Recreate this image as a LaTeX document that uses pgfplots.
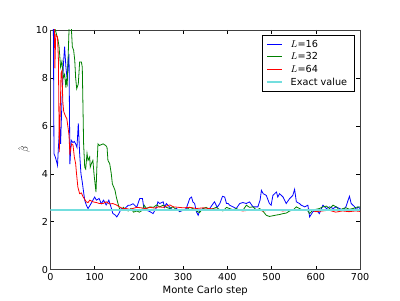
\documentclass[border=0pt]{standalone}
\usepackage{pgfplots}
\pgfplotsset{compat=1.18}
\usepackage{fontspec}
\setmainfont{DejaVu Sans}
\definecolor{mplgreen}{rgb}{0,0.5,0}
\definecolor{mplcyan}{rgb}{0.45,0.87,0.87}
\begin{document}
\fontsize{9.7pt}{11.5pt}\selectfont
\begin{tikzpicture}
\begin{axis}[
  width=310pt, height=240pt, scale only axis,
  xmin=0, xmax=700, ymin=0, ymax=10,
  xtick={0,100,...,700}, ytick={0,2,...,10},
  tick align=inside, major tick length=4pt,
  xtick pos=both, ytick pos=both,
  axis line style={black!75, line width=0.8pt},
  tick style={black, line width=0.5pt},
  /pgf/number format/assume math mode=true,
  ticklabel style={font=\fontsize{9.6pt}{11.5pt}\selectfont},
  yticklabel style={xshift=1pt},
  xlabel={Monte Carlo step},
  ylabel={$\hat{\beta}$},
  xlabel style={at={(axis description cs:0.5,-0.086)}, anchor=center, font=\fontsize{10pt}{12pt}\selectfont},
  ylabel style={at={(axis description cs:-0.085,0.5)}, anchor=center, font=\fontsize{10pt}{12pt}\selectfont},
  legend cell align=left,
  legend image code/.code={\draw[#1] (0pt,0pt) -- (15pt,0pt);},
  legend style={at={(rel axis cs:0.982,0.981)}, anchor=north east,
    draw=black, line width=0.6pt, inner xsep=4pt, inner ysep=3pt,
    row sep=0pt, font=\fontsize{9.7pt}{11.5pt}\selectfont,
    nodes={inner xsep=3pt, inner ysep=2pt},
    /tikz/every odd column/.append style={column sep=5pt}},
  every axis plot/.append style={line width=0.8pt},
  clip=true,
]
\coordinate (sw) at (rel axis cs:0,0);
\coordinate (ne) at (rel axis cs:1,1);
\addplot[blue, mark=none] coordinates {
(5,14) (7,9.0) (8,4.84) (11,4.7) (14,4.5) (16,4.35) (18,5.1) (21,5.95) (23,5.25) (26,7.0) (29,8.45) (32,9.3) (35,8.45) (38,7.9) (40,8.7) (42,9.0) (44,4.4) (47,5.4) (51,5.3) (54,5.35) (57,5.25) (60,5.1) (63,6.1) (66,4.85) (69,4.0) (72,3.65) (74.5,3.3) (77.5,2.9) (81,2.7) (85,2.55) (90,2.7) (96,2.9) (100,3.03) (104,2.9) (110,2.97) (115,2.75) (120,2.9) (126,2.7) (132,2.9) (138,2.55) (141,2.35) (147,2.27) (150,2.2) (155,2.35) (160,2.55) (165,2.48) (171,2.6) (176,2.69) (180,2.69) (187,2.75) (195,2.6) (202,2.97) (208,2.97) (211,2.6) (217,2.48) (225,2.42) (232,2.34) (240,2.6) (243,2.83) (247,2.76) (255,2.83) (258,2.6) (262,2.76) (270,2.6) (277,2.48) (285,2.55) (292,2.42) (300,2.48) (307,2.55) (315,2.97) (319,3.03) (322,2.83) (326,2.76) (330,2.42) (334,2.27) (338,2.48) (345,2.55) (353,2.48) (360,2.55) (368,2.76) (371,2.83) (377,2.6) (383,2.76) (389,3.06) (394,3.03) (398,2.76) (402,2.76) (405,2.69) (413,2.62) (420,2.55) (428,2.76) (435,2.8) (443,2.76) (450,2.83) (458,2.62) (469,2.62) (474,2.9) (477,3.31) (481,3.17) (488,3.10) (495,2.76) (499,2.69) (503,3.10) (511,3.24) (514,3.03) (518,3.17) (526,3.03) (533,2.76) (541,2.97) (548,3.10) (552,3.35) (556,2.83) (563,2.76) (567,2.69) (575,2.62) (582,2.69) (586,2.20) (593,2.41) (601,2.48) (608,2.34) (616,2.69) (624,2.55) (631,2.62) (639,2.55) (646,2.62) (654,2.55) (661,2.48) (668,2.62) (673,2.9) (676,3.06) (680,2.76) (688,2.62) (691,2.48) (695,2.62) (700,2.55)
};
\addlegendentry{$L$=16}
\addplot[mplgreen, mark=none] coordinates {
(8,12) (11,10.0) (14,9.8) (17,9.6) (19.5,9.3) (23,8.45) (26,8.7) (29,8.0) (32,8.15) (35,7.6) (36,7.9) (38,7.75) (40,8.86) (42,10.0) (44,10.8) (46,10.5) (47.5,10) (49.5,9.3) (52.5,9.15) (55,8.73) (57,8.0) (59.4,7.55) (63,7.75) (66,8.66) (70,8.66) (72,8.45) (75,5.25) (77.5,4.28) (79.7,4.2) (82.7,4.85) (85,4.56) (88.7,4.7) (90,4.28) (92.5,4.42) (96,4.56) (98.5,4.0) (100.8,3.6) (103,3.24) (105,4.28) (107.5,5.25) (111,5.18) (119,5.25) (125,5.18) (128,5.1) (130,4.56) (134,4.42) (137.6,4.0) (140,3.58) (143,3.45) (146,3.31) (149,3.03) (152.7,2.76) (156,2.55) (160,2.48) (165,2.6) (170,2.5) (176,2.45) (182,2.55) (188,2.4) (195,2.45) (201,2.4) (208,2.48) (212,2.69) (217,2.55) (225,2.62) (233,2.6) (240,2.7) (247,2.62) (255,2.69) (262,2.6) (270,2.55) (277,2.62) (285,2.5) (292,2.45) (300,2.48) (307,2.5) (315,2.6) (322,2.55) (330,2.45) (337,2.38) (345,2.55) (352,2.6) (360,2.5) (368,2.55) (375,2.6) (383,2.5) (390,2.45) (398,2.6) (405,2.55) (413,2.5) (420,2.55) (428,2.48) (436,2.5) (443,2.69) (450,2.6) (458,2.62) (466,2.48) (473,2.55) (480,2.45) (488,2.27) (495,2.22) (503,2.25) (511,2.28) (518,2.3) (526,2.34) (533,2.36) (541,2.45) (548,2.48) (556,2.62) (563,2.55) (571,2.48) (578,2.5) (582,2.45) (586,2.34) (593,2.48) (601,2.52) (608,2.55) (616,2.62) (624,2.65) (631,2.55) (639,2.69) (646,2.62) (654,2.48) (661,2.55) (668,2.58) (676,2.52) (684,2.55) (691,2.6) (700,2.62)
};
\addlegendentry{$L$=32}
\addplot[red, mark=none] coordinates {
(8,12) (10,8.4) (12,9.8) (16,9.7) (18,8.8) (20,4.9) (22,6.5) (24,8.2) (26,8.3) (28,7.0) (30,6.6) (34,6.4) (37,6.3) (40,5.9) (42,5.6) (44,4.8) (46,5.1) (48,5.25) (51,5.2) (54,4.7) (57,4.42) (59,4.0) (62,3.45) (66,3.17) (70,3.2) (74,3.03) (77,2.95) (81,2.83) (85,2.8) (89,2.9) (96,2.83) (104,2.8) (111,2.76) (119,2.76) (126,2.83) (134,2.74) (141,2.76) (149,2.7) (156,2.62) (164,2.55) (171,2.55) (179,2.52) (186,2.55) (195,2.6) (205,2.58) (215,2.55) (225,2.6) (235,2.57) (245,2.62) (255,2.6) (262,2.65) (270,2.7) (278,2.62) (290,2.6) (300,2.58) (315,2.6) (330,2.55) (345,2.58) (360,2.55) (375,2.52) (390,2.5) (405,2.48) (420,2.5) (435,2.45) (450,2.48) (465,2.5) (480,2.45) (495,2.48) (510,2.5) (525,2.45) (540,2.48) (555,2.5) (570,2.48) (585,2.52) (600,2.42) (615,2.45) (630,2.48) (645,2.4) (660,2.45) (675,2.42) (690,2.45) (700,2.43)
};
\addlegendentry{$L$=64}
\addplot[mplcyan, mark=none, line width=1.5pt] coordinates {(0,2.48) (700,2.48)};
\addlegendentry{Exact value}
\end{axis}
\path[use as bounding box] ([shift={(-50.5pt,-30.5pt)}]sw) rectangle ([shift={(40pt,30pt)}]ne);
\end{tikzpicture}
\end{document}
